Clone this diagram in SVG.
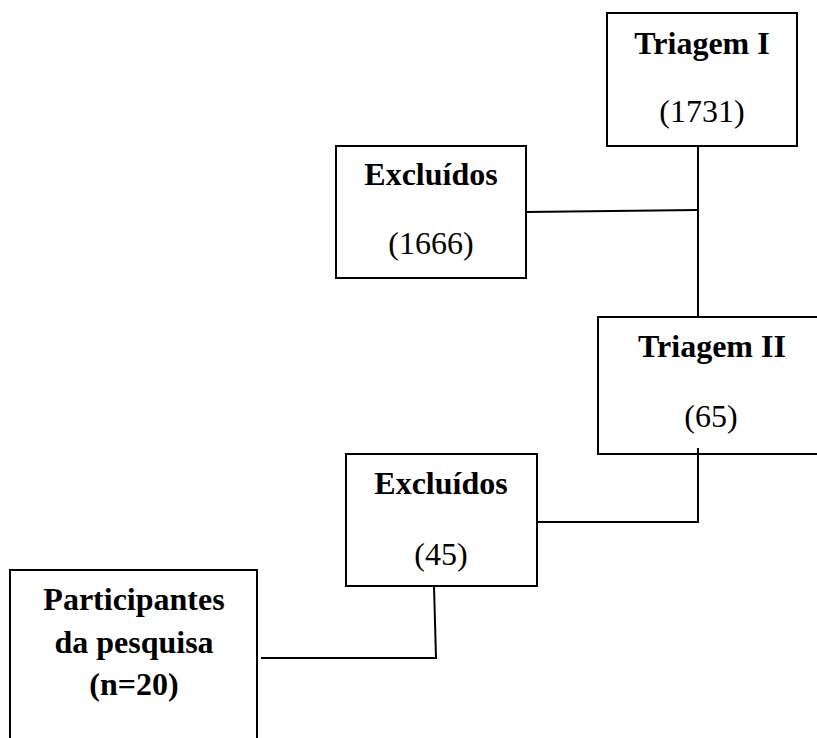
<svg xmlns="http://www.w3.org/2000/svg" width="817" height="738" viewBox="0 0 817 738">
<style>
.box{fill:#fff;stroke:#000;stroke-width:2}
.con{fill:none;stroke:#000;stroke-width:2}
text{font-family:"Liberation Serif","Times New Roman",serif;font-size:32px;fill:#000;text-anchor:middle}
.b{font-weight:bold}
</style>
<rect width="817" height="738" fill="#fff"/>
<g id="connectors">
<path class="con" d="M698,146 L698,317"/>
<path class="con" d="M526,212 L698,210"/>
<path class="con" d="M698,448 L698,522 L537,522"/>
<path class="con" d="M434,586 L436,658 L261,658"/>
</g>
<g id="triagem1">
<rect class="box" x="607" y="13" width="190" height="133"/>
<text class="b" x="702" y="54">Triagem I</text>
<text x="702" y="122">(1731)</text>
</g>
<g id="excluidos1">
<rect class="box" x="336" y="146" width="190" height="132"/>
<text class="b" x="431" y="185">Excluídos</text>
<text x="431" y="254">(1666)</text>
</g>
<g id="triagem2">
<rect class="box" x="598" y="317" width="228" height="137"/>
<text class="b" x="712" y="357">Triagem II</text>
<text x="711" y="427">(65)</text>
</g>
<path class="con" d="M698,448 L698,454"/>
<g id="excluidos2">
<rect class="box" x="346" y="454" width="191" height="132"/>
<text class="b" x="441" y="494">Excluídos</text>
<text x="441" y="565">(45)</text>
</g>
<g id="participantes">
<rect class="box" x="10" y="570" width="247" height="180"/>
<text class="b" x="134" y="610">Participantes</text>
<text class="b" x="134" y="653">da pesquisa</text>
<text class="b" x="134" y="695">(n=20)</text>
</g>
</svg>
